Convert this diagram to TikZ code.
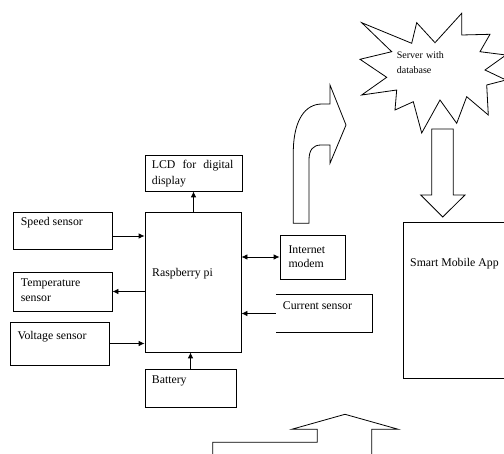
\documentclass[tikz,border=0pt]{standalone}
\usepackage{fontspec}
\setmainfont{Liberation Serif}
\usetikzlibrary{arrows.meta}
\tikzset{
  box/.style={draw, line width=0.8pt, inner sep=0pt},
  hid/.style={inner sep=0pt},
  txt/.style={anchor=base west, inner sep=0pt, font=\fontsize{11.8}{14}\selectfont},
  stxt/.style={anchor=base west, inner sep=0pt, font=\fontsize{10}{12}\selectfont},
  arr/.style={line width=0.8pt, -{Latex[length=6pt,width=5.5pt]}},
  darr/.style={line width=0.8pt, {Latex[length=6pt,width=5.5pt]}-{Latex[length=6pt,width=5.5pt]}},
  shp/.style={draw, line width=0.8pt, line join=miter}
}
\begin{document}
\begin{tikzpicture}[x=1pt,y=-1pt]
\clip (0,0) rectangle (504,454);
\fill[white] (0,0) rectangle (504,454);

% boxes
\node[box, minimum width=97, minimum height=36] (lcd) at (193.5,173) {};
\node[box, minimum width=99, minimum height=37] (speed) at (62.5,230.5) {};
\node[box, minimum width=96, minimum height=140] (rpi) at (193,282) {};
\node[box, minimum width=99, minimum height=39] (temp) at (62.5,291.5) {};
\node[box, minimum width=99, minimum height=43] (volt) at (59.5,343.5) {};
\node[box, minimum width=91, minimum height=38] (batt) at (190.5,388) {};
\node[box, minimum width=65, minimum height=44] (modem) at (312.5,257) {};
\node[hid, minimum width=96, minimum height=37] (current) at (324,313.5) {};
\draw[line width=0.8pt] (current.north west) -- (current.north east) -- (current.south east) -- (current.south west);
\node[box, minimum width=110, minimum height=156] (app) at (458,300) {};

% texts
\node[txt] (lcdA) at (151.7,169) {\makebox[81.6pt][s]{LCD for digital}};
\node[txt] (lcdB) at (151.7,185) {display};
\node[txt] (speedT) at (20.7,226) {Speed sensor};
\node[txt] (rpiT) at (152,276.5) {Raspberry pi};
\node[txt] (tempA) at (20.7,287) {Temperature};
\node[txt] (tempB) at (20.7,301.5) {sensor};
\node[txt] (voltT) at (17.3,339.5) {Voltage sensor};
\node[txt] (battT) at (151.7,384) {Battery};
\node[txt] (modemA) at (288.3,253.5) {Internet};
\node[txt] (modemB) at (288.3,268) {modem};
\node[txt] (curT) at (282.7,309.5) {Current sensor};
\node[txt] (appT) at (410,266.5) {Smart Mobile App};
\node[stxt] (srvA) at (396.7,58.5) {\makebox[47pt][s]{Server with}};
\node[stxt] (srvB) at (396.7,74) {database};

% connectors
\coordinate (sp) at ([yshift=-5.5pt]speed.east);
\draw[arr] (sp) -- (sp -| rpi.west);
\draw[arr] (rpi.west |- temp.east) -- (temp.east);
\draw[arr] (volt.east) -- (volt.east -| rpi.west);
\draw[arr] (lcd.south |- rpi.north) -- (lcd.south);
\draw[arr] (batt.north) -- (batt.north |- rpi.south);
\draw[darr] (modem.west -| rpi.east) -- (modem.west);
\draw[arr] (current.west) -- (current.west -| rpi.east);

% server starburst
\draw[shp] (361.7,22.7) -- (411.7,43.3) -- (416.7,22.7) -- (435,42.7) -- (461.7,13.3)
  -- (461.7,35) -- (490,34.3) -- (480,51.7) -- (506,55) -- (485,70) -- (506,80)
  -- (486.7,85) -- (488.3,115) -- (466.7,96.7) -- (456.7,123.3) -- (440,100)
  -- (421.7,133) -- (413.3,101.7) -- (395,110) -- (396.7,90) -- (361.7,95)
  -- (386.7,77.3) -- (360,59.3) -- (391.7,51.7) -- cycle;

% curved arrow
\draw[shp] (293.3,223.3) -- (293.3,150) .. controls (294,120) and (305,104) .. (322,104)
  -- (330,104) -- (330,85) -- (346,125) -- (330,163.3) -- (330,145) -- (321,145)
  .. controls (313,145) and (309,150) .. (309,160) -- (309,223.3) -- cycle;

% down arrow
\draw[shp] (431.7,129) -- (453.3,129) -- (453.3,195) -- (465,195) -- (442.7,217)
  -- (420.7,195) -- (431.7,195) -- cycle;

% bottom up arrow
\draw[shp] (212.7,460) -- (212.7,442.3) -- (317.3,442.3) -- (317.3,429.3) -- (291.7,429.3)
  -- (345,414.3) -- (398.3,429.3) -- (371.7,429.3) -- (371.7,460);
\end{tikzpicture}
\end{document}
